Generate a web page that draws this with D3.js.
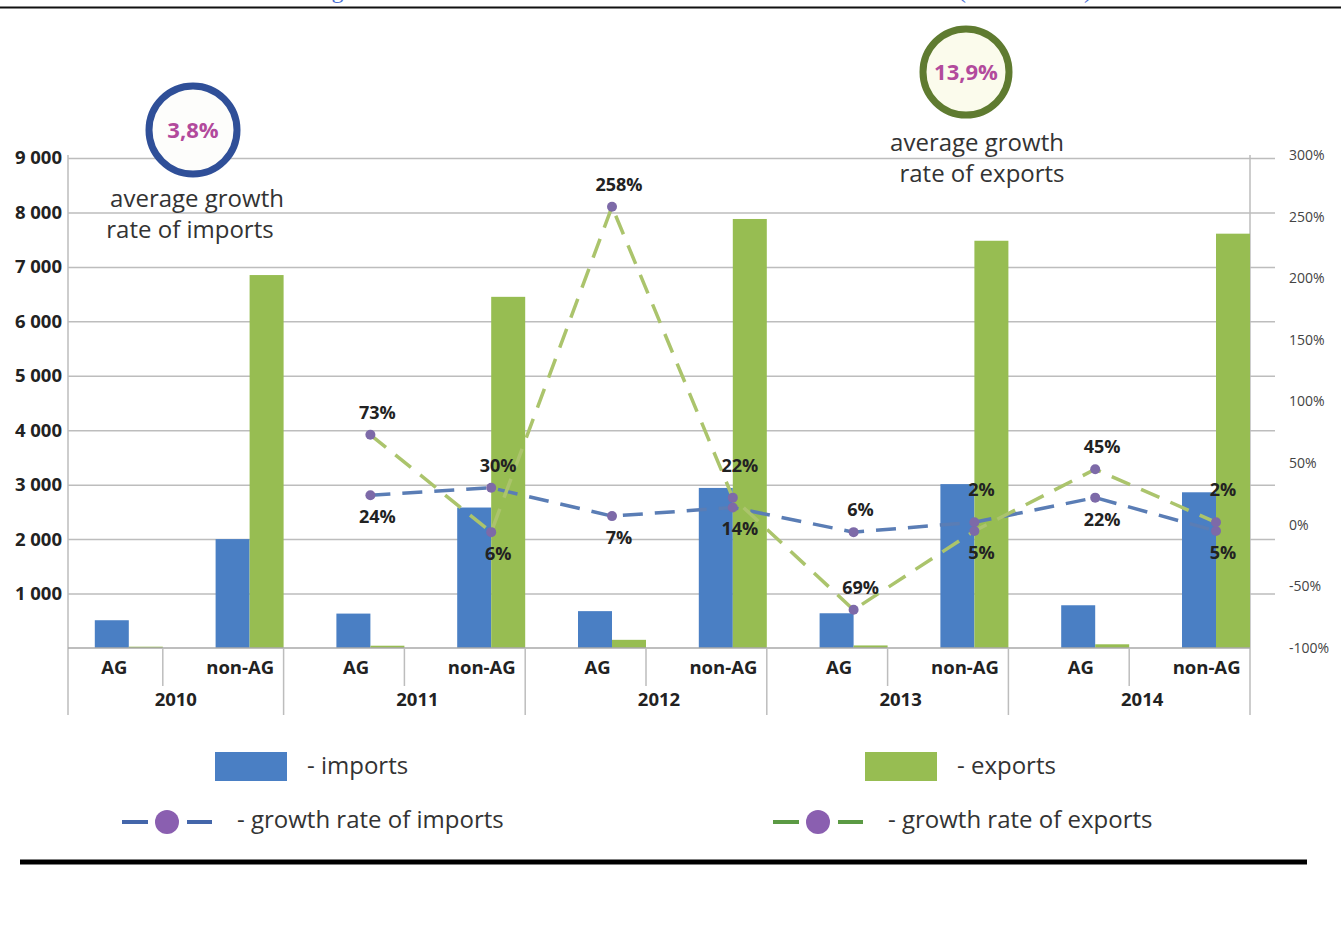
<!DOCTYPE html>
<html>
<head>
<meta charset="utf-8">
<script src="https://cdn.jsdelivr.net/npm/d3@7"></script>
<style>
  html, body { margin: 0; padding: 0; background: #ffffff; }
  svg { display: block; }
  text { font-family: "Open Sans", "Noto Sans", sans-serif; }
</style>
</head>
<body>
<svg id="chart" width="1341" height="951"></svg>
<script>
// ---- data -----------------------------------------------------------
const years = ["2010", "2011", "2012", "2013", "2014"];
const groups = ["AG", "non-AG"];
// one entry per (year, group), in order 2010 AG, 2010 non-AG, 2011 AG, ...
const imports = [510, 2000, 632, 2580, 677, 2940, 638, 3010, 785, 2860];
const exports = [24, 6850, 42, 6450, 150, 7880, 47, 7480, 68, 7610];
// year-on-year growth, %
const importsGrowth = [null, null, 24, 30, 7, 14, -6, 2, 22, -5];
const exportsGrowth = [null, null, 73, -6, 258, 22, -69, -5, 45, 2];
const leftTicks = [1000, 2000, 3000, 4000, 5000, 6000, 7000, 8000, 9000];
const rightTicks = [-100, -50, 0, 50, 100, 150, 200, 250, 300];
const avgImportsGrowth = "3,8%";
const avgExportsGrowth = "13,9%";
const titleText = "Figure 1 – Indicators of mutual trade between the EAEU and India (US$ million)";

// ---- layout ---------------------------------------------------------
const svg = d3.select("#chart");
const plotLeft = 68, plotRight = 1250, gridRight = 1275;
const yTop = 158, yBase = 648, axisBottom = 715;

const colors = {
  imports: "#4a7fc4",
  exports: "#97bd52",
  importsLine: "#5a7db5",
  exportsLine: "#abc46c",
  marker: "#7d6aa8",
  grid: "#bdbdbd",
  text: "#222222"
};

const cats = [];
years.forEach(y => groups.forEach(g => cats.push(y + "|" + g)));

const x = d3.scaleBand().domain(cats).range([42, plotRight]).padding(0);
const bw = x.bandwidth();
const barW = 34;
const xSeries = d3.scaleBand().domain(["imports", "exports"]).range([bw - 2 * barW, bw]);
const yL = d3.scaleLinear().domain([0, 9000]).range([yBase, yTop]);
const yR = d3.scaleLinear().domain([-100, 300]).range([yBase, 155]);

// ---- title strip at the top (runs off the page edge) ----------------
svg.append("text")
  .attr("x", 1092).attr("y", -2)
  .attr("text-anchor", "end")
  .style("font-family", "'Liberation Serif', serif")
  .style("font-size", "24px")
  .attr("fill", "#4d72d4")
  .text(titleText);
svg.append("line")
  .attr("x1", 0).attr("x2", 1341).attr("y1", 7.5).attr("y2", 7.5)
  .attr("stroke", "#111").attr("stroke-width", 2);

// ---- gridlines & left axis ------------------------------------------
const grid = svg.append("g").attr("transform", `translate(${plotLeft},0)`)
  .call(d3.axisLeft(yL).tickValues(leftTicks).tickSize(-(gridRight - plotLeft)).tickFormat(""));
grid.select(".domain").remove();
grid.selectAll(".tick line").attr("stroke", colors.grid).attr("stroke-width", 1.5);

const leftAxis = svg.append("g").attr("transform", `translate(${plotLeft - 6},0)`)
  .call(d3.axisLeft(yL).tickValues(leftTicks).tickSize(0).tickPadding(0)
    .tickFormat(d => d3.format(",")(d).replace(",", " ")));
leftAxis.select(".domain").remove();
leftAxis.selectAll("text")
  .style("font-family", "'Open Sans', sans-serif")
  .style("font-size", "18.5px").style("font-weight", 700)
  .attr("fill", colors.text);

// ---- right axis (labels only) ---------------------------------------
const rightAxis = svg.append("g").attr("transform", `translate(1289,0)`)
  .call(d3.axisRight(yR).tickValues(rightTicks).tickSize(0).tickPadding(0)
    .tickFormat(d => d + "%"));
rightAxis.select(".domain").remove();
rightAxis.selectAll("text")
  .style("font-size", "14px")
  .attr("fill", "#444");

// ---- frame lines ----------------------------------------------------
svg.append("line").attr("x1", plotLeft).attr("x2", plotLeft)
  .attr("y1", 155).attr("y2", axisBottom).attr("stroke", colors.grid).attr("stroke-width", 1.5);
svg.append("line").attr("x1", plotRight).attr("x2", plotRight)
  .attr("y1", 155).attr("y2", axisBottom).attr("stroke", colors.grid).attr("stroke-width", 1.5);

// ---- bars -----------------------------------------------------------
const rows = cats.map((c, i) => ({
  key: c, year: c.split("|")[0], group: c.split("|")[1],
  imports: imports[i], exports: exports[i],
  importsGrowth: importsGrowth[i], exportsGrowth: exportsGrowth[i]
}));

const barG = svg.append("g");
["imports", "exports"].forEach(s => {
  barG.selectAll("rect." + s).data(rows).enter().append("rect")
    .attr("class", s)
    .attr("x", d => x(d.key) + xSeries(s))
    .attr("width", xSeries.bandwidth())
    .attr("y", d => yL(d[s]))
    .attr("height", d => yBase - yL(d[s]))
    .attr("fill", colors[s]);
});

// baseline
svg.append("line").attr("x1", plotLeft).attr("x2", plotRight)
  .attr("y1", yBase).attr("y2", yBase).attr("stroke", "#a8a8a8").attr("stroke-width", 1.5);

// ---- category axis --------------------------------------------------
const catAxis = svg.append("g");
cats.forEach((c, i) => {
  const left = x(c);
  if (i === 0) return;
  const isYear = i % 2 === 0;
  catAxis.append("line")
    .attr("x1", left).attr("x2", left)
    .attr("y1", yBase).attr("y2", isYear ? axisBottom : 686)
    .attr("stroke", colors.grid).attr("stroke-width", 1.5);
});
catAxis.selectAll("text.grp").data(rows).enter().append("text")
  .attr("class", "grp")
  .attr("x", d => x(d.key) + bw / 2 + (d.group === "AG" ? 12 : 17))
  .attr("y", 674)
  .attr("text-anchor", "middle")
  .style("font-size", "18.5px").style("font-weight", 700)
  .attr("fill", colors.text)
  .text(d => d.group);
catAxis.selectAll("text.yr").data(years).enter().append("text")
  .attr("class", "yr")
  .attr("x", y => x(y + "|" + groups[1]) + 13)
  .attr("y", 706)
  .attr("text-anchor", "middle")
  .style("font-size", "18.5px").style("font-weight", 700)
  .attr("fill", colors.text)
  .text(y => y);

// ---- growth lines ---------------------------------------------------
const px = d => x(d.key) + bw - barW;
const series = [
  { key: "importsGrowth", color: colors.importsLine },
  { key: "exportsGrowth", color: colors.exportsLine }
];
series.forEach(s => {
  const pts = rows.filter(d => d[s.key] !== null);
  svg.append("path")
    .datum(pts)
    .attr("d", d3.line().x(px).y(d => yR(d[s.key])))
    .attr("fill", "none")
    .attr("stroke", s.color)
    .attr("stroke-width", 3.5)
    .attr("stroke-dasharray", "20 12");
});
series.forEach(s => {
  const pts = rows.filter(d => d[s.key] !== null);
  svg.selectAll(null).data(pts).enter().append("circle")
    .attr("cx", px).attr("cy", d => yR(d[s.key]))
    .attr("r", 5)
    .attr("fill", colors.marker);
});

// value labels: the higher of the two rates goes above its marker,
// the lower one below, unless it sits near the bottom of the scale
const labelG = svg.append("g");
rows.filter(d => d.importsGrowth !== null).forEach(d => {
  series.forEach(s => {
    const other = s.key === "importsGrowth" ? "exportsGrowth" : "importsGrowth";
    const v = d[s.key];
    const above = v >= d[other] || v < -50;
    const close = Math.abs(v - d[other]) < 10 && above;
    labelG.append("text")
      .attr("x", px(d) + 7)
      .attr("y", yR(v) + (above ? (close ? -26 : -16) : 28))
      .attr("text-anchor", "middle")
      .style("font-size", "18px").style("font-weight", 700)
      .attr("fill", colors.text)
      .text(Math.abs(v) + "%");
  });
});

// ---- average growth badges ------------------------------------------
function badge(cx, cy, r, stroke, fill, value, lines, tx, ty) {
  svg.append("circle").attr("cx", cx).attr("cy", cy).attr("r", r)
    .attr("fill", fill).attr("stroke", stroke).attr("stroke-width", 7);
  svg.append("text").attr("x", cx).attr("y", cy + 8)
    .attr("text-anchor", "middle")
    .style("font-size", "22px").style("font-weight", 700)
    .attr("fill", "#b24a9c")
    .text(value);
  lines.forEach((t, i) => {
    svg.append("text").attr("x", tx[i]).attr("y", ty + i * 31)
      .attr("text-anchor", "middle")
      .style("font-size", "24px")
      .attr("fill", "#333")
      .text(t);
  });
}
badge(193, 130, 44, "#2f4f98", "#fdfdfb", avgImportsGrowth,
  ["average growth", "rate of imports"], [197, 190], 207);
badge(966, 72, 43, "#5f7b30", "#fbfbec", avgExportsGrowth,
  ["average growth", "rate of exports"], [977, 982], 151);

// ---- legend ---------------------------------------------------------
const legend = svg.append("g");
[
  { x: 215, color: colors.imports, label: "- imports" },
  { x: 865, color: colors.exports, label: "- exports" }
].forEach(d => {
  legend.append("rect").attr("x", d.x).attr("y", 752).attr("width", 72).attr("height", 29)
    .attr("fill", d.color);
  legend.append("text").attr("x", d.x + 92).attr("y", 774)
    .style("font-size", "24px").attr("fill", "#333").text(d.label);
});
[
  { x: 122, color: "#4466aa", label: "- growth rate of imports" },
  { x: 773, color: "#5b9a44", label: "- growth rate of exports" }
].forEach(d => {
  legend.append("line").attr("x1", d.x).attr("x2", d.x + 26).attr("y1", 822).attr("y2", 822)
    .attr("stroke", d.color).attr("stroke-width", 4);
  legend.append("line").attr("x1", d.x + 65).attr("x2", d.x + 90).attr("y1", 822).attr("y2", 822)
    .attr("stroke", d.color).attr("stroke-width", 4);
  legend.append("circle").attr("cx", d.x + 45).attr("cy", 822).attr("r", 12)
    .attr("fill", "#8a5fb0");
  legend.append("text").attr("x", d.x + 115).attr("y", 828)
    .style("font-size", "24px").attr("fill", "#333").text(d.label);
});

// closing rule under the chart
svg.append("line").attr("x1", 20).attr("x2", 1307).attr("y1", 862).attr("y2", 862)
  .attr("stroke", "#000").attr("stroke-width", 5);
</script>
</body>
</html>
